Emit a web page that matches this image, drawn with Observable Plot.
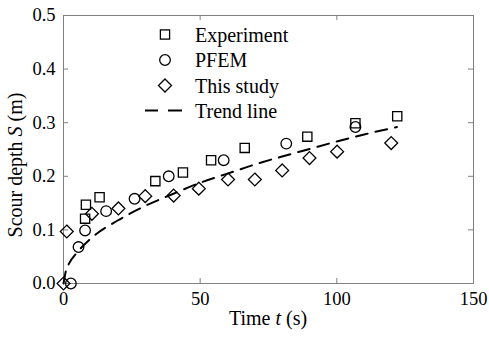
<!DOCTYPE html>
<html>
<head>
<meta charset="utf-8">
<script src="https://cdn.jsdelivr.net/npm/d3@7"></script>
<script src="https://cdn.jsdelivr.net/npm/@observablehq/plot@0.6"></script>
<style>
  html, body { margin: 0; padding: 0; background: #fff; }
  #wrap { position: relative; width: 489px; height: 337px; font-family: 'Liberation Serif', 'Times New Roman', serif; color: #000; }
  .lbl { position: absolute; font-size: 20px; line-height: 20px; white-space: nowrap; }
  .leg { position: absolute; left: 195px; font-size: 20px; line-height: 20px; white-space: nowrap; }
  .icon { position: absolute; left: 0; top: 0; overflow: visible; }
</style>
</head>
<body>
<div id="wrap"></div>
<script>
// ---- data ----
const expT   = [7.9, 8.2, 13.2, 33.6, 43.7, 54.0, 66.3, 89.2, 106.8, 122.1];
const expS   = [0.121, 0.147, 0.161, 0.191, 0.207, 0.230, 0.253, 0.274, 0.299, 0.312];

const pfemT  = [2.7, 5.5, 7.9, 15.6, 26.0, 38.5, 58.6, 81.5, 106.8];
const pfemS  = [0.000, 0.068, 0.099, 0.135, 0.158, 0.200, 0.230, 0.261, 0.292];

const studyT = [0.0, 1.2, 10.4, 20.1, 29.9, 40.3, 49.5, 60.2, 70.0, 80.0, 90.0, 100.1, 119.9];
const studyS = [0.000, 0.097, 0.130, 0.140, 0.163, 0.164, 0.177, 0.194, 0.194, 0.211, 0.234, 0.246, 0.262];

const trendT = [0, 1, 2, 5, 10, 20, 30, 40, 50, 60, 70, 80, 90, 100, 110, 122];
const trendS = [0.000, 0.026, 0.037, 0.058, 0.084, 0.118, 0.145, 0.167, 0.188, 0.205, 0.222, 0.237, 0.251, 0.265, 0.278, 0.292];

const xTicks = [0, 50, 100, 150];
const yTicks = [0, 0.1, 0.2, 0.3, 0.4, 0.5];

const legendLabels = ["Experiment", "PFEM", "This study", "Trend line"];

// ---- tables ----
const exp   = expT.map((t, i) => ({t, s: expS[i]}));
const pfem  = pfemT.map((t, i) => ({t, s: pfemS[i]}));
const study = studyT.map((t, i) => ({t, s: studyS[i]}));
const trend = trendT.map((t, i) => ({t, s: trendS[i]}));

const W = 489, H = 337;
const mT = 15, mR = 16, mB = 54, mL = 63;
const pw = W - mL - mR, ph = H - mT - mB;
const axisCol = "#808080";
const tickLen = 5;

const chart = Plot.plot({
  width: W, height: H,
  marginTop: mT, marginRight: mR, marginBottom: mB, marginLeft: mL,
  x: {domain: [0, 150]},
  y: {domain: [0, 0.5]},
  style: {fontFamily: "'Liberation Serif', 'Times New Roman', serif", fontSize: "18.5px", color: "#000", background: "#fff", overflow: "visible"},
  marks: [
    Plot.frame({stroke: axisCol, strokeWidth: 1}),
    // inward ticks
    Plot.ruleX(xTicks, {x: d => d, stroke: axisCol, insetTop: ph - tickLen}),
    Plot.ruleX(xTicks, {x: d => d, stroke: axisCol, insetBottom: ph - tickLen}),
    Plot.ruleY(yTicks, {y: d => d, stroke: axisCol, insetRight: pw - tickLen}),
    Plot.ruleY(yTicks, {y: d => d, stroke: axisCol, insetLeft: pw - tickLen}),
    Plot.axisX(xTicks, {tickSize: 0, tickPadding: 8, label: null, tickFormat: d => String(d), fill: "#000"}),
    Plot.axisY(yTicks, {tickSize: 0, tickPadding: 8, label: null, tickFormat: d3.format(".1f"), fill: "#000"}),
    // trend line
    Plot.line(trend, {x: "t", y: "s", stroke: "#000", strokeWidth: 2, strokeDasharray: "12,8", curve: "monotone-x"}),
    // markers
    Plot.dot(exp,   {x: "t", y: "s", symbol: "square",   r: 5.2, stroke: "#000", strokeWidth: 1.3, fill: "none"}),
    Plot.dot(pfem,  {x: "t", y: "s", symbol: "circle",   r: 5.3, stroke: "#000", strokeWidth: 1.3, fill: "none"}),
    Plot.dot(study, {x: "t", y: "s", symbol: "diamond2", r: 5.8, stroke: "#000", strokeWidth: 1.3, fill: "none"})
  ]
});

const wrap = document.getElementById("wrap");
chart.style.position = "absolute";
chart.style.left = "0";
chart.style.top = "0";
wrap.appendChild(chart);

// axis titles
const xl = document.createElement("div");
xl.className = "lbl";
xl.innerHTML = "Time <i>t</i> (s)";
xl.style.left = (mL + pw / 2) + "px";
xl.style.top = "308px";
xl.style.transform = "translateX(-50%)";
wrap.appendChild(xl);

const yl = document.createElement("div");
yl.className = "lbl";
yl.innerHTML = "Scour depth <i>S</i> (m)";
yl.style.left = "15px";
yl.style.top = "165px";
yl.style.transform = "translate(-50%, -50%) rotate(-90deg)";
wrap.appendChild(yl);

// legend
const rowY = [34.5, 60, 85.5, 110.5];
const icx = 165;
const ns = "http://www.w3.org/2000/svg";
const legSvg = document.createElementNS(ns, "svg");
legSvg.setAttribute("width", W);
legSvg.setAttribute("height", H);
legSvg.setAttribute("class", "icon");
legSvg.style.position = "absolute";
legSvg.style.pointerEvents = "none";
function el(tag, attrs) {
  const e = document.createElementNS(ns, tag);
  for (const k in attrs) e.setAttribute(k, attrs[k]);
  legSvg.appendChild(e);
  return e;
}
const st = {fill: "none", stroke: "#000", "stroke-width": 1.3};
el("rect", {x: icx - 4.6, y: rowY[0] - 4.6, width: 9.2, height: 9.2, ...st});
el("circle", {cx: icx, cy: rowY[1], r: 5.3, ...st});
el("path", {d: `M${icx},${rowY[2]-6.5}L${icx+6.5},${rowY[2]}L${icx},${rowY[2]+6.5}L${icx-6.5},${rowY[2]}Z`, ...st});
el("line", {x1: 145, x2: 158, y1: rowY[3], y2: rowY[3], stroke: "#000", "stroke-width": 2});
el("line", {x1: 168, x2: 182, y1: rowY[3], y2: rowY[3], stroke: "#000", "stroke-width": 2});
wrap.appendChild(legSvg);

legendLabels.forEach((txt, i) => {
  const d = document.createElement("div");
  d.className = "leg";
  d.textContent = txt;
  d.style.top = (rowY[i] - 10) + "px";
  wrap.appendChild(d);
});
</script>
</body>
</html>
